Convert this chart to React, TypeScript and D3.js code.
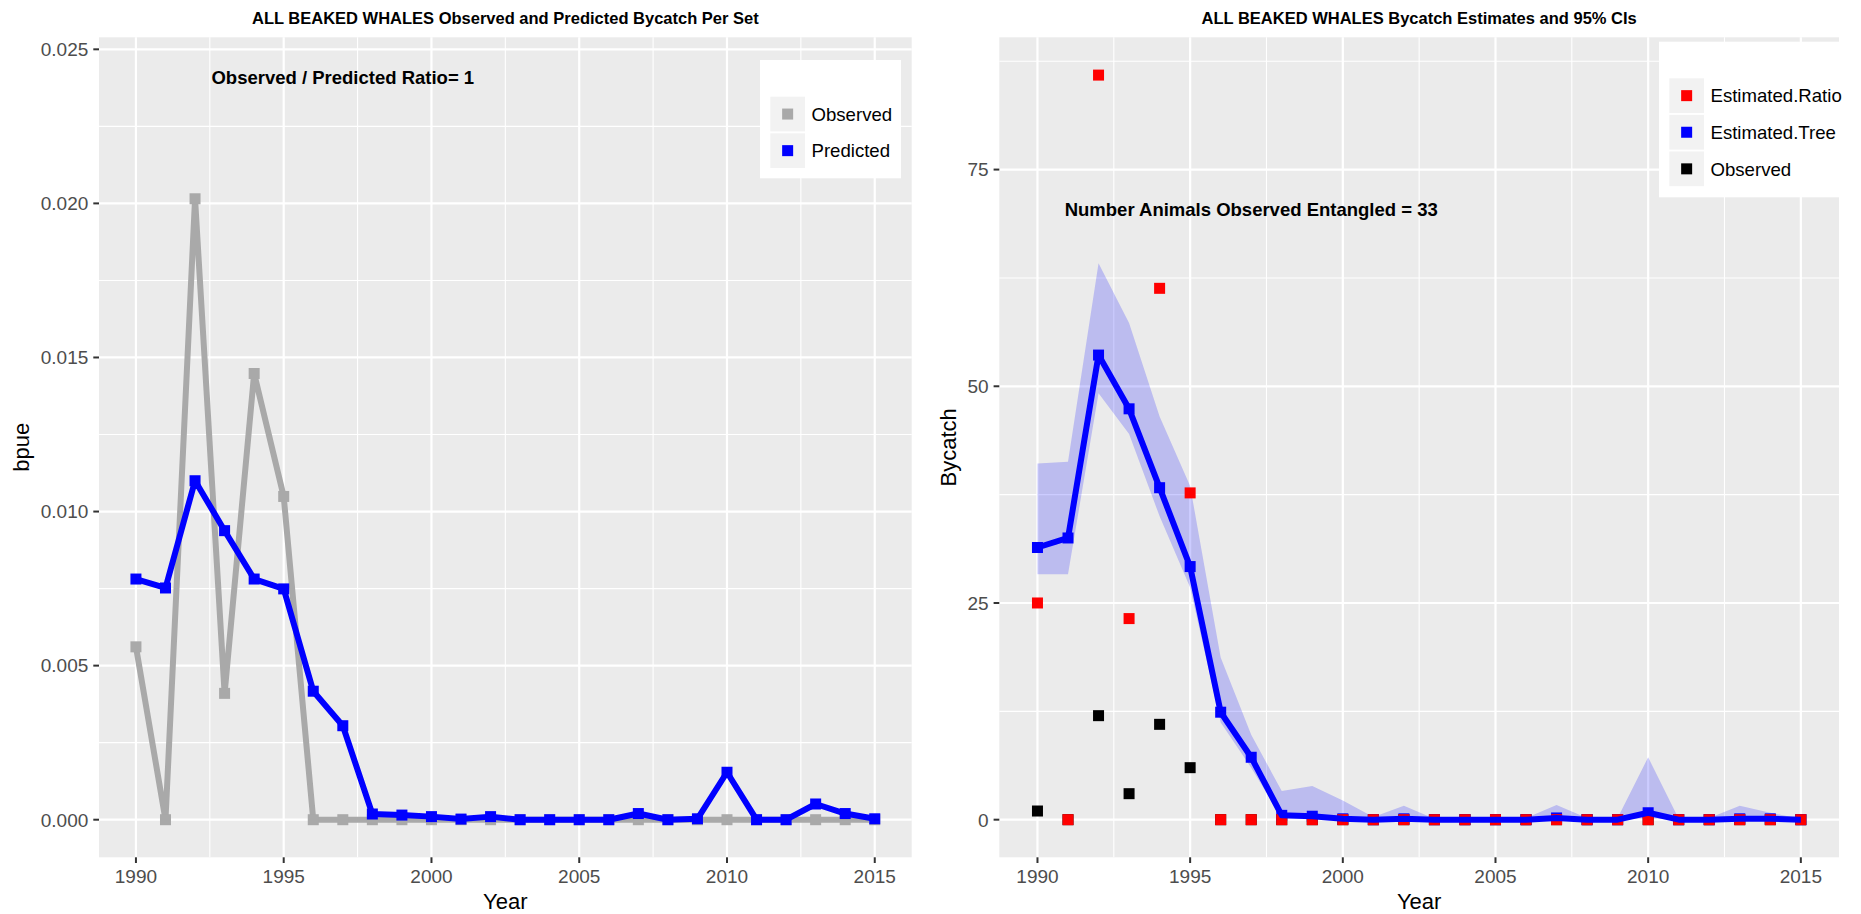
import React from 'react';
import * as d3 from 'd3';

const years = [1990, 1991, 1992, 1993, 1994, 1995, 1996, 1997, 1998, 1999, 2000, 2001, 2002, 2003, 2004, 2005, 2006, 2007, 2008, 2009, 2010, 2011, 2012, 2013, 2014, 2015];

const observedBpue = [0.00561, 0, 0.02015, 0.0041, 0.01448, 0.01049, 0, 0, 0, 0, 0, 0, 0, 0, 0, 0, 0, 0, 0, 0, 0, 0, 0, 0, 0, 0];
const predictedBpue = [0.00781, 0.00752, 0.0110, 0.00938, 0.00781, 0.00749, 0.00417, 0.00305, 0.000185, 0.00015, 0.0001, 0.00002, 0.0001, 0, 0, 0, 0, 0.0002, 0, 0.00003, 0.00154, 0, 0, 0.00051, 0.0002, 0.00003];

const treeEstimate = [31.4, 32.5, 53.6, 47.4, 38.3, 29.2, 12.4, 7.2, 0.5, 0.4, 0.1, 0, 0.1, 0, 0, 0, 0, 0.2, 0, 0, 0.8, 0, 0, 0.1, 0.1, 0];
const treeLower = [28.3, 28.3, 49.2, 44.5, 35.0, 26.8, 11.2, 6.0, 0.2, 0.1, 0, 0, 0, 0, 0, 0, 0, 0, 0, 0, 0.2, 0, 0, 0, 0, 0];
const treeUpper = [41.1, 41.3, 64.2, 57.3, 46.5, 38.5, 18.7, 9.8, 3.3, 3.9, 2.2, 0.3, 1.6, 0.1, 0.2, 0.2, 0.2, 1.7, 0.2, 0.2, 7.2, 0.1, 0.2, 1.6, 0.8, 0.1];
const ratioEstimate = [25.0, 0, 85.9, 23.2, 61.3, 37.7, 0, 0, 0, 0, 0, 0, 0, 0, 0, 0, 0, 0, 0, 0, 0, 0, 0, 0, 0, 0];
const observedCount = [1, 0, 12, 3, 11, 6, 0, 0, 0, 0, 0, 0, 0, 0, 0, 0, 0, 0, 0, 0, 0, 0, 0, 0, 0, 0];

const xTicks = [1990, 1995, 2000, 2005, 2010, 2015];
const xMinor = [1992.5, 1997.5, 2002.5, 2007.5, 2012.5];
const leftYTicks = [0, 0.005, 0.01, 0.015, 0.02, 0.025];
const leftYTickLabels = ['0.000', '0.005', '0.010', '0.015', '0.020', '0.025'];
const leftYMinor = [0.0025, 0.0075, 0.0125, 0.0175, 0.0225];
const rightYTicks = [0, 25, 50, 75];
const rightYTickLabels = ['0', '25', '50', '75'];
const rightYMinor = [12.5, 37.5, 62.5, 87.5];

const leftTitle = 'ALL BEAKED WHALES Observed and Predicted Bycatch Per Set';
const rightTitle = 'ALL BEAKED WHALES Bycatch Estimates and 95% CIs';
const leftNote = 'Observed / Predicted Ratio= 1';
const rightNote = 'Number Animals Observed Entangled = 33';
const leftLegend = ['Observed', 'Predicted'];
const rightLegend = ['Estimated.Ratio', 'Estimated.Tree', 'Observed'];

const FONT = '"Liberation Sans", Arial, Helvetica, sans-serif';
const TOP = 37.3;
const BOTTOM = 857.3;
const SQ = 11;

type Scale = d3.ScaleLinear<number, number>;

function Frame(props: {
  id: string;
  x: Scale;
  y: Scale;
  yTicks: number[];
  yLabels: string[];
  yMinor: number[];
  title: string;
  yTitle: string;
  yTitleX: number;
  children?: React.ReactNode;
}) {
  const { id, x, y, yTicks, yLabels, yMinor, title, yTitle, yTitleX } = props;
  const [x0, x1] = x.range();
  const cx = (x0 + x1) / 2;
  const cy = (TOP + BOTTOM) / 2;
  return (
    <g>
      <defs>
        <clipPath id={id}>
          <rect x={x0} y={TOP} width={x1 - x0} height={BOTTOM - TOP} />
        </clipPath>
      </defs>
      <rect x={x0} y={TOP} width={x1 - x0} height={BOTTOM - TOP} fill="#EBEBEB" />
      {yMinor.map((v) => (
        <line key={'ym' + v} x1={x0} x2={x1} y1={y(v)} y2={y(v)} stroke="#fff" strokeWidth={1.1} />
      ))}
      {xMinor.map((v) => (
        <line key={'xm' + v} x1={x(v)} x2={x(v)} y1={TOP} y2={BOTTOM} stroke="#fff" strokeWidth={1.1} />
      ))}
      {yTicks.map((v) => (
        <line key={'yM' + v} x1={x0} x2={x1} y1={y(v)} y2={y(v)} stroke="#fff" strokeWidth={2.2} />
      ))}
      {xTicks.map((v) => (
        <line key={'xM' + v} x1={x(v)} x2={x(v)} y1={TOP} y2={BOTTOM} stroke="#fff" strokeWidth={2.2} />
      ))}
      <g clipPath={`url(#${id})`}>{props.children}</g>
      {yTicks.map((v, i) => (
        <g key={'yt' + v}>
          <line x1={x0 - 5.7} x2={x0} y1={y(v)} y2={y(v)} stroke="#333" strokeWidth={2} />
          <text x={x0 - 10.7} y={y(v)} dy="0.36em" textAnchor="end" fontSize={19} fill="#4D4D4D" fontFamily={FONT}>
            {yLabels[i]}
          </text>
        </g>
      ))}
      {xTicks.map((v) => (
        <g key={'xt' + v}>
          <line x1={x(v)} x2={x(v)} y1={BOTTOM} y2={BOTTOM + 5.7} stroke="#333" strokeWidth={2} />
          <text x={x(v)} y={883.3} textAnchor="middle" fontSize={19} fill="#4D4D4D" fontFamily={FONT}>
            {v}
          </text>
        </g>
      ))}
      <text x={cx} y={24} textAnchor="middle" fontSize={16.5} fontWeight="bold" fontFamily={FONT} fill="#000">
        {title}
      </text>
      <text x={cx} y={909} textAnchor="middle" fontSize={22} fontFamily={FONT} fill="#000">
        Year
      </text>
      <text
        transform={`translate(${yTitleX},${cy}) rotate(-90)`}
        textAnchor="middle"
        fontSize={22}
        fontFamily={FONT}
        fill="#000"
      >
        {yTitle}
      </text>
    </g>
  );
}

function Squares(props: { x: Scale; y: Scale; values: number[]; color: string }) {
  const { x, y, values, color } = props;
  return (
    <g>
      {values.map((v, i) => (
        <rect key={i} x={x(years[i]) - SQ / 2} y={y(v) - SQ / 2} width={SQ} height={SQ} fill={color} />
      ))}
    </g>
  );
}

function Legend(props: {
  x: number;
  y: number;
  w: number;
  h: number;
  keyTop: number;
  labels: string[];
  colors: string[];
}) {
  const { x, y, w, h, keyTop, labels, colors } = props;
  const step = 36.6;
  const ks = 34.7;
  return (
    <g>
      <rect x={x} y={y} width={w} height={h} fill="#fff" />
      {labels.map((lab, i) => {
        const ky = keyTop + i * step;
        const kx = x + 10.3;
        return (
          <g key={lab}>
            <rect x={kx} y={ky} width={ks} height={ks} fill="#F2F2F2" />
            <rect x={kx + ks / 2 - SQ / 2} y={ky + ks / 2 - SQ / 2} width={SQ} height={SQ} fill={colors[i]} />
            <text x={kx + ks + 6.5} y={ky + ks / 2} dy="0.36em" fontSize={18.6} fontFamily={FONT} fill="#000">
              {lab}
            </text>
          </g>
        );
      })}
    </g>
  );
}

export default function App() {
  const xL = d3.scaleLinear().domain([1988.75, 2016.25]).range([99, 911.7]);
  const yL = d3.scaleLinear().domain([-0.00122, 0.02539]).range([BOTTOM, TOP]);
  const xR = d3.scaleLinear().domain([1988.75, 2016.25]).range([999.3, 1839]);
  const yR = d3.scaleLinear().domain([-4.34, 90.26]).range([BOTTOM, TOP]);

  const lineL = (vals: number[]) =>
    d3
      .line<number>()
      .x((_, i) => xL(years[i]))
      .y((d) => yL(d))(vals) || '';
  const lineR = d3
    .line<number>()
    .x((_, i) => xR(years[i]))
    .y((d) => yR(d));
  const area = d3
    .area<number>()
    .x((_, i) => xR(years[i]))
    .y0((_, i) => yR(treeLower[i]))
    .y1((_, i) => yR(treeUpper[i]));

  return (
    <svg
      width={1861}
      height={914}
      style={{ position: 'absolute', left: 0, top: 0, background: '#fff' }}
      xmlns="http://www.w3.org/2000/svg"
    >
      <rect x={0} y={0} width={1861} height={914} fill="#fff" />
      <Frame
        id="clipL"
        x={xL}
        y={yL}
        yTicks={leftYTicks}
        yLabels={leftYTickLabels}
        yMinor={leftYMinor}
        title={leftTitle}
        yTitle="bpue"
        yTitleX={29}
      >
        <path d={lineL(observedBpue)} fill="none" stroke="#A9A9A9" strokeWidth={6} strokeLinejoin="round" />
        <Squares x={xL} y={yL} values={observedBpue} color="#A9A9A9" />
        <path d={lineL(predictedBpue)} fill="none" stroke="#0000FF" strokeWidth={6} strokeLinejoin="round" />
        <Squares x={xL} y={yL} values={predictedBpue} color="#0000FF" />
        <text
          x={xL(1997)}
          y={yL(0.0241)}
          dy="0.36em"
          textAnchor="middle"
          fontSize={18.5}
          fontWeight="bold"
          fontFamily={FONT}
          fill="#000"
        >
          {leftNote}
        </text>
      </Frame>
      <Legend x={760} y={60} w={141} h={118.3} keyTop={96.7} labels={leftLegend} colors={['#A9A9A9', '#0000FF']} />

      <Frame
        id="clipR"
        x={xR}
        y={yR}
        yTicks={rightYTicks}
        yLabels={rightYTickLabels}
        yMinor={rightYMinor}
        title={rightTitle}
        yTitle="Bycatch"
        yTitleX={956}
      >
        <path d={area(treeEstimate) || ''} fill="#0000FF" fillOpacity={0.2} />
        <Squares x={xR} y={yR} values={observedCount} color="#000000" />
        <Squares x={xR} y={yR} values={treeEstimate} color="#0000FF" />
        <Squares x={xR} y={yR} values={ratioEstimate} color="#FF0000" />
        <path d={lineR(treeEstimate) || ''} fill="none" stroke="#0000FF" strokeWidth={6} strokeLinejoin="round" />
        <text
          x={xR(1997)}
          y={yR(70.4)}
          dy="0.36em"
          textAnchor="middle"
          fontSize={18.5}
          fontWeight="bold"
          fontFamily={FONT}
          fill="#000"
        >
          {rightNote}
        </text>
      </Frame>
      <Legend
        x={1659}
        y={41.7}
        w={202}
        h={155.6}
        keyTop={78.3}
        labels={rightLegend}
        colors={['#FF0000', '#0000FF', '#000000']}
      />
    </svg>
  );
}
